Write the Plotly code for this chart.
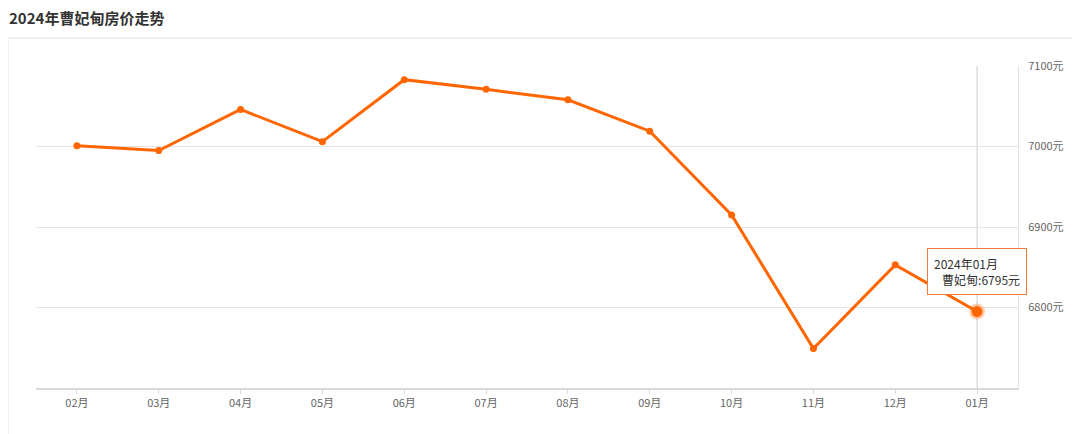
import plotly.graph_objects as go

months = ["02月", "03月", "04月", "05月", "06月", "07月", "08月", "09月", "10月", "11月", "12月", "01月"]
prices = [7001, 6995, 7046, 7006, 7083, 7071, 7058, 7019, 6915, 6749, 6853, 6795]
y_ticks = [6800, 6900, 7000, 7100]
title = "2024年曹妃甸房价走势"
series_name = "曹妃甸"
hover_label = "2024年01月"

# page is rendered with an 8px body margin, so the figure starts at (8, 8)
OFF = 8
W, H = 1080 - OFF, 434 - OFF
L, R, T, B = 36 - OFF, 62, 66 - OFF, 46
pw, ph = W - L - R, H - T - B

def px(x):  # page x -> paper
    return (x - OFF - L) / pw

def py(y):  # page y -> paper
    return (H - B - (y - OFF)) / ph

orange = "#ff6600"
font = "Noto Sans CJK SC, Microsoft YaHei, sans-serif"

fig = go.Figure()
fig.add_trace(go.Scatter(
    x=months, y=prices, mode="lines+markers",
    line=dict(color=orange, width=3),
    marker=dict(color=orange, size=7),
    name=series_name, showlegend=False, hoverinfo="skip",
))
fig.add_trace(go.Scatter(
    x=[months[-1]], y=[prices[-1]], mode="markers",
    marker=dict(color=orange, size=11, line=dict(color="rgba(255,102,0,0.3)", width=5)),
    showlegend=False, hoverinfo="skip",
))

fig.update_layout(
    width=W, height=H,
    margin=dict(l=L, r=R, t=T, b=B),
    paper_bgcolor="white", plot_bgcolor="white",
    font=dict(family=font, color="#666", size=11),
    xaxis=dict(
        type="category", range=[-0.5, len(months) - 0.5],
        showgrid=False, showline=True, linecolor="#d9d9d9", linewidth=2,
        ticks="outside", ticklen=4, tickcolor="#d9d9d9",
        tickfont=dict(size=11, color="#666"), fixedrange=True,
    ),
    yaxis=dict(
        range=[6700, 7100], side="right",
        tickvals=y_ticks, ticktext=[f"{v}元" for v in y_ticks],
        showgrid=True, gridcolor="#e3e3e3", gridwidth=1,
        showline=True, linecolor="#e3e3e3", linewidth=1,
        zeroline=False, ticks="", ticklabelstandoff=7,
        tickfont=dict(size=11, color="#666"), fixedrange=True,
    ),
    shapes=[
        dict(type="rect", xref="paper", yref="paper",
             x0=px(8), x1=px(1100), y0=py(460), y1=py(38),
             line=dict(color="#ececec", width=1.5), fillcolor="rgba(0,0,0,0)", layer="below"),
        dict(type="line", xref="x", yref="y", x0=months[-1], x1=months[-1],
             y0=6700, y1=7100, line=dict(color="#cccccc", width=1), layer="below"),
    ],
    annotations=[
        dict(text=f"<b>{title}</b>", xref="paper", yref="paper",
             x=px(7), y=py(17), xanchor="left", yanchor="middle", showarrow=False,
             font=dict(size=15, color="#333", family=font)),
        dict(text=f"{hover_label}<br>   {series_name}:{prices[-1]}元",
             xref="x", yref="y", x=months[-1], y=prices[-1],
             showarrow=False, yanchor="bottom", xanchor="center", yshift=17, xshift=0,
             align="left", bgcolor="white", bordercolor="#f07a3c", borderwidth=1, borderpad=6,
             font=dict(size=12, color="#333", family=font)),
    ],
)

fig.write_html("out.html")
